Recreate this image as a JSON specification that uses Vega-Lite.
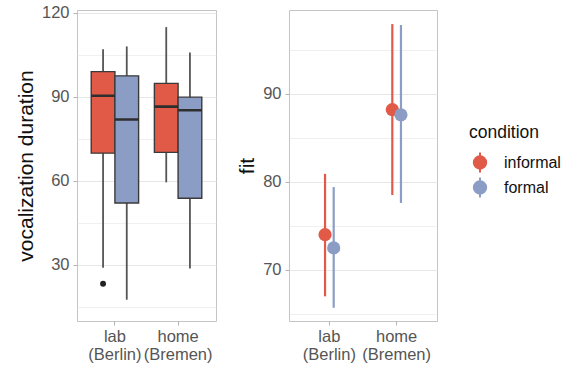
{
  "$schema": "https://vega.github.io/schema/vega-lite/v6.json",
  "padding": {"left": 14, "top": 4, "right": 5, "bottom": 2},
  "background": "white",
  "config": {
    "font": "Liberation Sans",
    "view": {"stroke": "#c4c4c4", "strokeWidth": 1},
    "axis": {
      "domain": false,
      "gridColor": "#e6e6e6",
      "tickColor": "#b3b3b3",
      "tickSize": 4,
      "labelPadding": 4,
      "labelColor": "#555555",
      "labelFontSize": 16.5,
      "titleFontSize": 21,
      "titleFontWeight": "normal",
      "titleColor": "#111111"
    },
    "legend": {"titleFontSize": 17.5, "titleFontWeight": "normal", "labelFontSize": 16, "labelColor": "#111111", "titleColor": "#111111"}
  },
  "datasets": {
    "boxes": [
      {"location": "lab (Berlin)", "condition": "informal", "lower": 29, "q1": 69.9, "median": 90.4, "q3": 99, "upper": 107},
      {"location": "lab (Berlin)", "condition": "formal", "lower": 17.6, "q1": 52.1, "median": 81.9, "q3": 97.5, "upper": 108},
      {"location": "home (Bremen)", "condition": "informal", "lower": 59.5, "q1": 70.2, "median": 86.5, "q3": 94.8, "upper": 114.9},
      {"location": "home (Bremen)", "condition": "formal", "lower": 28.7, "q1": 53.8, "median": 85.2, "q3": 89.9, "upper": 105.8}
    ],
    "outliers": [
      {"location": "lab (Berlin)", "condition": "informal", "value": 23.3}
    ],
    "fits": [
      {"location": "lab (Berlin)", "condition": "informal", "fit": 74.0, "lo": 67.0, "hi": 80.9},
      {"location": "lab (Berlin)", "condition": "formal", "fit": 72.5, "lo": 65.7, "hi": 79.4},
      {"location": "home (Bremen)", "condition": "informal", "fit": 88.2, "lo": 78.5, "hi": 97.9},
      {"location": "home (Bremen)", "condition": "formal", "fit": 87.6, "lo": 77.6, "hi": 97.8}
    ]
  },
  "spacing": 19,
  "resolve": {
    "scale": {"x": "independent", "xOffset": "independent", "y": "independent", "color": "independent", "fill": "independent"},
    "legend": {"color": "independent", "fill": "independent"}
  },
  "hconcat": [
    {
      "width": 139,
      "height": 311,
      "encoding": {
        "x": {
          "field": "location", "type": "nominal", "sort": ["lab (Berlin)", "home (Bremen)"],
          "scale": {"paddingInner": 0.25, "paddingOuter": 0.225},
          "axis": {"title": null, "labelAngle": 0, "labelExpr": "split(datum.value, ' ')", "bandPosition": 0.5, "labelPadding": 3, "labelLineHeight": 18}
        },
        "xOffset": {"field": "condition", "type": "nominal", "sort": ["informal", "formal"], "scale": {"paddingInner": 0, "paddingOuter": 0}}
      },
      "layer": [
        {
          "data": {"name": "boxes"},
          "mark": {"type": "rule", "color": "#555555", "strokeWidth": 1.8},
          "encoding": {
            "y": {
              "field": "lower", "type": "quantitative",
              "scale": {"domain": [10, 121], "nice": false, "zero": false},
              "axis": {
                "title": "vocalization duration",
                "values": [15, 30, 45, 60, 75, 90, 105, 120],
                "labelExpr": "datum.value % 30 == 0 ? datum.label : ''",
                "gridWidth": {"condition": {"test": "datum.value % 30 == 0", "value": 1}, "value": 0.6},
                "tickOpacity": {"condition": {"test": "datum.value % 30 == 0", "value": 1}, "value": 0},
                "titlePadding": 5
              }
            },
            "y2": {"field": "upper"}
          }
        },
        {
          "data": {"name": "boxes"},
          "mark": {"type": "bar", "stroke": "#3a3a3a", "strokeWidth": 1.4},
          "encoding": {
            "y": {"field": "q1", "type": "quantitative"},
            "y2": {"field": "q3"},
            "fill": {"field": "condition", "type": "nominal", "scale": {"domain": ["informal", "formal"], "range": ["#E15A47", "#8B9DC5"]}, "legend": null}
          }
        },
        {
          "data": {"name": "boxes"},
          "mark": {"type": "bar", "stroke": "#2e2e2e", "strokeWidth": 2.6, "fill": null},
          "encoding": {
            "y": {"field": "median", "type": "quantitative"},
            "y2": {"field": "median"}
          }
        },
        {
          "data": {"name": "outliers"},
          "mark": {"type": "point", "filled": true, "color": "#222222", "size": 35, "opacity": 1},
          "encoding": {
            "y": {"field": "value", "type": "quantitative"}
          }
        }
      ]
    },
    {
      "width": 148,
      "height": 311,
      "data": {"name": "fits"},
      "encoding": {
        "x": {
          "field": "location", "type": "nominal", "sort": ["lab (Berlin)", "home (Bremen)"],
          "scale": {"paddingInner": 0.743, "paddingOuter": 0.4715},
          "axis": {"title": null, "labelAngle": 0, "labelExpr": "split(datum.value, ' ')", "bandPosition": 0.5, "labelPadding": 3, "labelLineHeight": 18}
        },
        "xOffset": {"field": "condition", "type": "nominal", "sort": ["informal", "formal"], "scale": {"paddingInner": 0, "paddingOuter": 0}},
        "color": {
          "field": "condition", "type": "nominal",
          "scale": {"domain": ["informal", "formal"], "range": ["#E15A47", "#8B9DC5"]},
          "legend": {
            "title": "condition",
            "orient": "none",
            "legendX": 180,
            "legendY": 114,
            "symbolType": "M-0.62,0A0.62,0.62 0 1,0 0.62,0A0.62,0.62 0 1,0 -0.62,0Z M0,-1V1",
            "symbolSize": 400,
            "symbolStrokeWidth": 2,
            "symbolOpacity": 1,
            "rowPadding": -3,
            "labelOffset": 13,
            "padding": 0,
            "titlePadding": 10,
            "direction": "vertical"
          }
        }
      },
      "layer": [
        {
          "mark": {"type": "rule", "strokeWidth": 2.2},
          "encoding": {
            "y": {
              "field": "lo", "type": "quantitative",
              "scale": {"domain": [64.2, 99.5], "nice": false, "zero": false},
              "axis": {
                "title": "fit",
                "values": [65, 70, 75, 80, 85, 90, 95],
                "labelExpr": "datum.value % 10 == 0 ? datum.label : ''",
                "gridWidth": {"condition": {"test": "datum.value % 10 == 0", "value": 1}, "value": 0.6},
                "tickOpacity": {"condition": {"test": "datum.value % 10 == 0", "value": 1}, "value": 0},
                "titlePadding": 5
              }
            },
            "y2": {"field": "hi"}
          }
        },
        {
          "mark": {"type": "point", "filled": true, "size": 175, "opacity": 1},
          "encoding": {
            "y": {"field": "fit", "type": "quantitative"}
          }
        }
      ]
    }
  ]
}
